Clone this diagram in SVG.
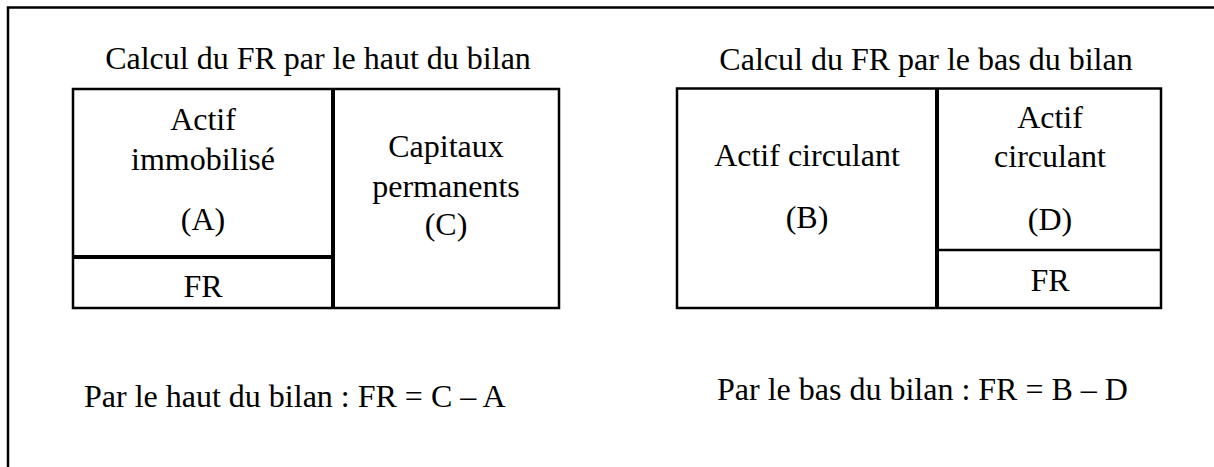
<svg xmlns="http://www.w3.org/2000/svg" width="1214" height="467" viewBox="0 0 1214 467">
  <rect x="0" y="0" width="1214" height="467" fill="#fff"/>
  <path id="frame" d="M8,467 V7.5 H1214" fill="none" stroke="#000" stroke-width="2.5"/>

  <g id="haut">
    <text font-family="Liberation Serif" font-size="32" text-anchor="middle" x="318" y="69">Calcul du FR par le haut du bilan</text>
    <rect x="73" y="89" width="486" height="219" fill="none" stroke="#000" stroke-width="2.5"/>
    <g id="actif-immobilise">
      <line x1="73" y1="257" x2="333" y2="257" stroke="#000" stroke-width="4"/>
      <text font-family="Liberation Serif" font-size="32" text-anchor="middle" x="203" y="130">Actif</text>
      <text font-family="Liberation Serif" font-size="32" text-anchor="middle" x="203" y="170">immobilis&#233;</text>
      <text font-family="Liberation Serif" font-size="32" text-anchor="middle" x="203" y="230">(A)</text>
    </g>
    <g id="fr-haut">
      <text font-family="Liberation Serif" font-size="32" text-anchor="middle" x="203" y="297">FR</text>
    </g>
    <g id="capitaux-permanents">
      <line x1="333" y1="89" x2="333" y2="308" stroke="#000" stroke-width="4"/>
      <text font-family="Liberation Serif" font-size="32" text-anchor="middle" x="446" y="157">Capitaux</text>
      <text font-family="Liberation Serif" font-size="32" text-anchor="middle" x="446" y="197">permanents</text>
      <text font-family="Liberation Serif" font-size="32" text-anchor="middle" x="446" y="235">(C)</text>
    </g>
  </g>

  <g id="bas">
    <text font-family="Liberation Serif" font-size="32" text-anchor="middle" x="926" y="70">Calcul du FR par le bas du bilan</text>
    <rect x="677" y="88.5" width="484" height="219.5" fill="none" stroke="#000" stroke-width="2.5"/>
    <g id="actif-circulant-b">
      <text font-family="Liberation Serif" font-size="32" text-anchor="middle" x="807" y="166">Actif circulant</text>
      <text font-family="Liberation Serif" font-size="32" text-anchor="middle" x="807" y="228">(B)</text>
    </g>
    <g id="actif-circulant-d">
      <line x1="937" y1="88.5" x2="937" y2="308" stroke="#000" stroke-width="4"/>
      <line x1="937" y1="250" x2="1161" y2="250" stroke="#000" stroke-width="2.5"/>
      <text font-family="Liberation Serif" font-size="32" text-anchor="middle" x="1050" y="128">Actif</text>
      <text font-family="Liberation Serif" font-size="32" text-anchor="middle" x="1050" y="167">circulant</text>
      <text font-family="Liberation Serif" font-size="32" text-anchor="middle" x="1050" y="230">(D)</text>
    </g>
    <g id="fr-bas">
      <text font-family="Liberation Serif" font-size="32" text-anchor="middle" x="1050" y="291">FR</text>
    </g>
  </g>

  <g id="formules">
    <text font-family="Liberation Serif" font-size="32" x="84" y="407">Par le haut du bilan : FR = C &#8211; A</text>
    <text font-family="Liberation Serif" font-size="32" x="717" y="400">Par le bas du bilan : FR = B &#8211; D</text>
  </g>

  <g id="connectors"/>
</svg>
